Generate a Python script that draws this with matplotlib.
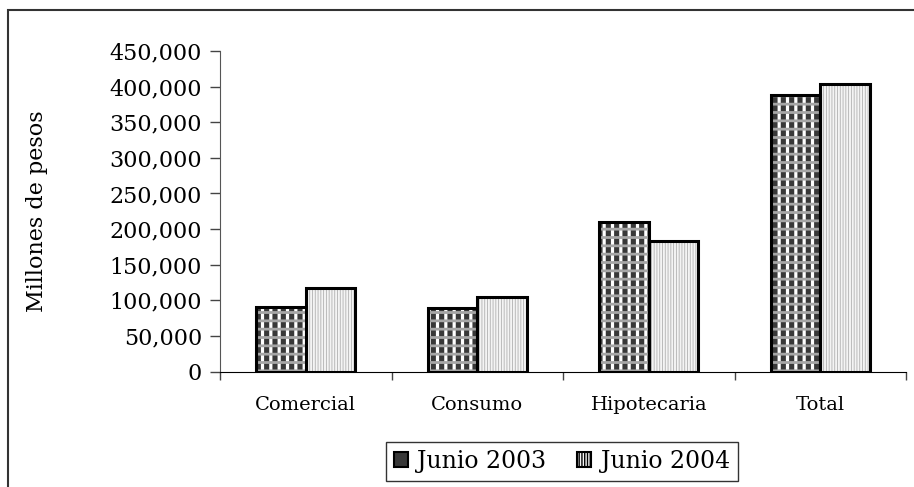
import matplotlib
matplotlib.use('Agg')
import matplotlib.pyplot as plt
import numpy as np
from matplotlib.patches import Rectangle
from matplotlib.ticker import FuncFormatter, FixedLocator

# datos (millones de pesos)
categorias = ['Comercial', 'Consumo', 'Hipotecaria', 'Total']
junio_2003 = [90000, 89500, 209500, 388000]
junio_2004 = [117000, 104500, 183000, 403500]
series = ['Junio 2003', 'Junio 2004']

plt.rcParams['font.family'] = ['DejaVu Serif']

fig = plt.figure(figsize=(9.14, 4.87), dpi=100)
ax = fig.add_axes([220 / 914, 1 - 371.5 / 487, 686 / 914, 320.5 / 487])

x = np.arange(len(categorias))
w = 0.29

# 2003: cuadriculado oscuro (fondo oscuro + verticales blancas + horizontales grises)
b1 = ax.bar(x - w / 2, junio_2003, w, color='#383838', linewidth=0, zorder=2)
v = ax.bar(x - w / 2, junio_2003, w, fill=False, hatch='||', edgecolor='white',
           linewidth=0, zorder=2.1)
h = ax.bar(x - w / 2, junio_2003, w, fill=False, hatch='--', edgecolor='#a6a6a6',
           linewidth=0, zorder=2.2)
for b in v:
    b.set_hatch_linewidth(2.3)
for b in h:
    b.set_hatch_linewidth(2.0)
# 2004: punteado claro
b2 = ax.bar(x + w / 2, junio_2004, w, color='#f4f4f4', hatch='||||||',
            edgecolor='#b0b0b0', linewidth=0, zorder=2)
for b in b2:
    b.set_hatch_linewidth(0.6)
# contornos negros
ax.bar(x - w / 2, junio_2003, w, fill=False, edgecolor='black', linewidth=2.2, zorder=3)
ax.bar(x + w / 2, junio_2004, w, fill=False, edgecolor='black', linewidth=2.2, zorder=3)

ax.set_xlim(-0.5, len(categorias) - 0.5)
ax.set_ylim(0, 450000)
ax.set_yticks(np.arange(0, 450001, 50000))
ax.yaxis.set_major_formatter(FuncFormatter(lambda v, p: f'{v:,.0f}'))
ax.tick_params(axis='y', labelsize=16, length=7, width=1, pad=6, color='#444444')

ax.set_xticks(x)
ax.set_xticklabels(categorias, fontsize=14)
ax.tick_params(axis='x', which='major', length=0, pad=18)
ax.xaxis.set_minor_locator(FixedLocator(np.arange(-0.5, len(categorias), 1)))
ax.tick_params(axis='x', which='minor', length=6, width=1, color='#444444')

for s in ['top', 'right']:
    ax.spines[s].set_visible(False)
ax.spines['left'].set_color('#555555')
ax.spines['bottom'].set_color('black')

ax.set_ylabel('Millones de pesos', fontsize=16)
ax.yaxis.set_label_coords((48 - 220) / 686, 0.5)

leg = ax.legend([b1[0], b2[0]], series, loc='center', bbox_to_anchor=(562 / 914, 1 - 461.5 / 487),
                bbox_transform=fig.transFigure, ncol=2, fontsize=17, frameon=True,
                fancybox=False, edgecolor='black', handlelength=0.6, handleheight=0.6,
                handletextpad=0.4, columnspacing=1.3, borderpad=0.35, borderaxespad=0)
leg.get_frame().set_linewidth(1.0)
for hd in leg.legend_handles:
    hd.set_edgecolor('black')
    hd.set_linewidth(1.5)

# marco exterior de la figura
fig.patches.append(Rectangle((8 / 914, -0.2), 1.2, 1.2 - 10 / 487,
                             transform=fig.transFigure, fill=False,
                             edgecolor='#333333', linewidth=1.5))

fig.savefig('out.png', dpi=100)
